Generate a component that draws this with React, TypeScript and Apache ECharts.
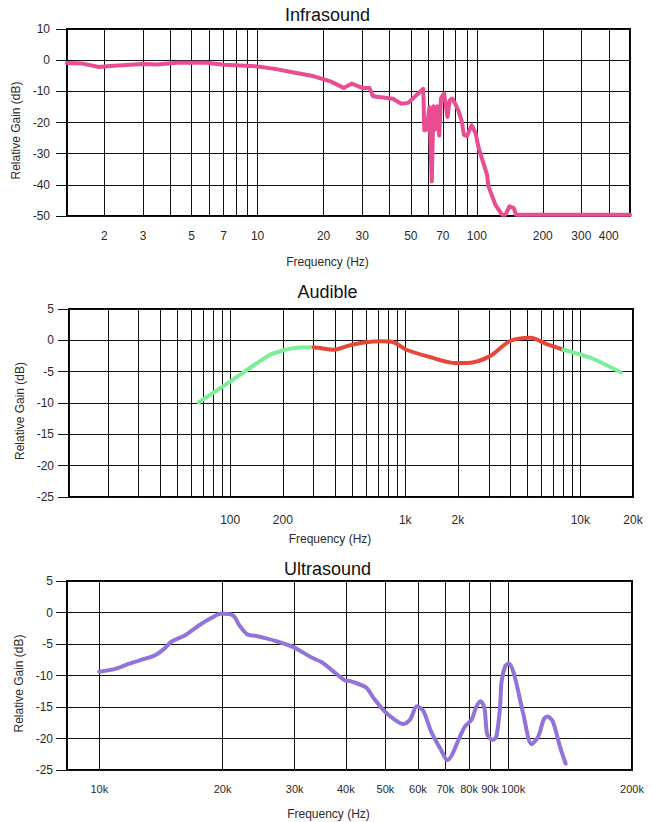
import React, { useEffect, useRef } from "react";
import * as echarts from "echarts";

// ---------- Infrasound ----------
const infraRange = [1.35, 500];
const infraTicks = [1.35, 2, 3, 4, 5, 6, 7, 8, 9, 10, 20, 30, 40, 50, 60, 70, 80, 90, 100, 200, 300, 400, 500];
const infraLabels = [2, 3, 5, 7, 10, 20, 30, 50, 70, 100, 200, 300, 400];
const infraFreq = [1.35, 1.59, 1.89, 2.12, 3.0, 3.48, 4.29, 5.85, 7, 10, 12.0, 14.4, 17.9, 21.5, 24.7, 26.9, 30, 32.4, 33.6, 41.4, 45.3, 48.6, 57.0, 57.6, 59.1, 60.8, 62.3, 63.4, 64.5, 66.0, 67.4, 68.6, 70.9, 73.5, 75.2, 77.3, 80, 82.6, 85.4, 87.3, 90.2, 94.6, 98.6, 102, 111.4, 113, 121.6, 130.4, 135.1, 140.9, 147.5, 151, 500];
const infraGain = [-0.9, -1.1, -2.2, -1.9, -1.2, -1.4, -0.8, -0.8, -1.5, -2.0, -2.8, -3.9, -5.1, -6.8, -8.9, -7.5, -8.9, -8.9, -11.6, -12.4, -14.0, -13.7, -9.2, -22.5, -22.3, -15.1, -38.9, -14.8, -22.3, -14.8, -24.2, -12.3, -10.7, -18.2, -12.9, -12.3, -14.2, -16.4, -19.6, -23.9, -24.4, -20.9, -23.3, -28.2, -36.8, -40.5, -46.4, -49.6, -49.6, -46.9, -47.5, -49.6, -49.6];

// ---------- Audible ----------
const audRange = [12, 20000];
const audTicks = [12, 20, 30, 40, 50, 60, 70, 80, 90, 100, 200, 300, 400, 500, 600, 700, 800, 900, 1000, 2000, 3000, 4000, 5000, 6000, 7000, 8000, 9000, 10000, 20000];
const audLabels = [100, 200, 1000, 2000, 10000, 20000];
const audLowFreq = [66, 103.5, 169, 233, 300];
const audLowGain = [-9.9, -6.3, -2.3, -1.2, -1.1];
const audMidFreq = [300, 318, 392, 480, 594, 734, 857, 1014, 1359, 1905, 2265, 3013, 3953, 5190, 6427, 8000];
const audMidGain = [-1.1, -1.2, -1.5, -0.8, -0.3, -0.15, -0.3, -1.5, -2.6, -3.6, -3.6, -2.6, -0.15, 0.4, -0.6, -1.5];
const audHighFreq = [8000, 11730, 17030];
const audHighGain = [-1.5, -2.9, -5.1];

// ---------- Ultrasound ----------
const ultraRange = [8340, 200000];
const ultraTicks = [8340, 10000, 20000, 30000, 40000, 50000, 60000, 70000, 80000, 90000, 100000, 200000];
const ultraLabels = [10000, 20000, 30000, 40000, 50000, 60000, 70000, 80000, 90000, 100000, 200000];
const ultraFreq = [10000, 10990, 11630, 12550, 13670, 14330, 15030, 16210, 17650, 18860, 19770, 20150, 21240, 22020, 23010, 24040, 25570, 27210, 29800, 33110, 34950, 36890, 39670, 41060, 44800, 46800, 49750, 52660, 55240, 57410, 59680, 61830, 64650, 68180, 70900, 72680, 75410, 78170, 81210, 83270, 85350, 87220, 88670, 91450, 93260, 95170, 96070, 98060, 100000, 102500, 105300, 108600, 113700, 118000, 121700, 124200, 128100, 133000, 137700];
const ultraGain = [-9.4, -8.9, -8.3, -7.6, -6.8, -5.9, -4.6, -3.6, -1.9, -0.8, -0.2, -0.2, -0.5, -2.1, -3.5, -3.7, -4.1, -4.6, -5.5, -7.2, -7.9, -9.1, -10.7, -10.9, -11.9, -13.6, -15.7, -17.0, -17.7, -17.0, -14.9, -15.6, -18.9, -21.7, -23.4, -22.6, -20.2, -18.1, -17.0, -15.0, -14.1, -15.2, -19.4, -20.2, -19.7, -15.2, -10.9, -8.5, -8.1, -9.3, -12.3, -16.2, -20.9, -19.7, -17.0, -16.5, -17.3, -21.0, -24.0];

const titles = ["Infrasound", "Audible", "Ultrasound"];

const FONT = "'Liberation Sans', Arial, Helvetica, sans-serif";
const LINE = "#111";
const TEXT = "#2a2a2a";
const lg = (v: number) => Math.log10(v);
const fmtHz = (f: number) => (f >= 1000 ? `${Math.round(f / 100) / 10}k` : `${f}`);
const pairs = (fs: number[], gs: number[]) => fs.map((f, i) => [lg(f), gs[i]]);

// a label crowded against its left neighbour is nudged right
function nudged(labels: number[], best: number): string {
  const i = labels.indexOf(best);
  const txt = fmtHz(best);
  const gapL = i > 0 ? lg(best) - lg(labels[i - 1]) : 1;
  if (gapL < 0.05) return `{r|${txt}}`;
  return txt;
}

function makeX(gridIndex: number, range: number[], ticks: number[], labels: number[], labelSize: number, labelMargin: number, nameGap: number) {
  return {
    type: "value",
    gridIndex,
    min: lg(range[0]),
    max: lg(range[1]),
    name: "Frequency (Hz)",
    nameLocation: "middle",
    nameGap,
    nameTextStyle: { fontFamily: FONT, fontSize: 12, color: TEXT, padding: [0, 42, 0, 0] },
    axisLine: { show: false },
    axisTick: { show: true, inside: false, length: 10, customValues: ticks.map(lg), lineStyle: { color: LINE, width: 1 } },
    axisLabel: {
      customValues: labels.map(lg),
      formatter: (v: number) => {
        let best = labels[0];
        for (const l of labels) if (Math.abs(lg(l) - v) < Math.abs(lg(best) - v)) best = l;
        return nudged(labels, best);
      },
      fontFamily: FONT,
      fontSize: labelSize,
      color: TEXT,
      margin: labelMargin,
      rich: {
        r: { fontFamily: FONT, fontSize: labelSize, color: TEXT, padding: [0, 0, 0, 9] },
      },
    },
    splitLine: { show: true, lineStyle: { color: LINE, width: 1 } },
  };
}

function makeY(gridIndex: number, min: number, max: number, interval: number, margin: number, nameGap: number) {
  return {
    type: "value",
    gridIndex,
    min,
    max,
    interval,
    name: "Relative Gain (dB)",
    nameLocation: "middle",
    nameGap,
    nameTextStyle: { fontFamily: FONT, fontSize: 12, color: TEXT, padding: [0, 16, 0, 0] },
    axisLine: { show: false },
    axisTick: { show: true, inside: false, length: 11, lineStyle: { color: LINE, width: 1 } },
    axisLabel: { fontFamily: FONT, fontSize: 12, color: TEXT, margin },
    splitLine: { show: true, lineStyle: { color: LINE, width: 1 } },
  };
}

function lineSeries(xi: number, data: number[][], color: string, smooth: number | boolean) {
  return {
    type: "line",
    xAxisIndex: xi,
    yAxisIndex: xi,
    data,
    showSymbol: false,
    symbol: "none",
    smooth,
    lineStyle: { color, width: 4, cap: "round", join: "round" },
    z: 5,
  };
}

export default function App() {
  const ref = useRef<HTMLDivElement>(null);
  useEffect(() => {
    if (!ref.current) return;
    const chart = echarts.init(ref.current, undefined, { renderer: "svg" });
    const gridBase = { show: true, borderColor: "#000", borderWidth: 2, containLabel: false, outerBoundsMode: "none", backgroundColor: "transparent" };
    const titleStyle = { fontFamily: FONT, fontSize: 18, fontWeight: "normal", color: "#111" };
    const option = {
      animation: false,
      backgroundColor: "#fff",
      title: [
        { text: titles[0], left: "center", top: 6, padding: 0, textStyle: titleStyle },
        { text: titles[1], left: "center", top: 283, padding: 0, textStyle: titleStyle },
        { text: titles[2], left: "center", top: 560, padding: 0, textStyle: titleStyle },
      ],
      grid: [
        { ...gridBase, left: 67, right: 25, top: 29, height: 187 },
        { ...gridBase, left: 69, right: 22, top: 309, height: 188 },
        { ...gridBase, left: 67, right: 23, top: 581, height: 189 },
      ],
      xAxis: [
        makeX(0, infraRange, infraTicks, infraLabels, 12, 14, 40),
        makeX(1, audRange, audTicks, audLabels, 12, 17, 36),
        makeX(2, ultraRange, ultraTicks, ultraLabels, 11, 13, 38),
      ],
      yAxis: [
        makeY(0, -50, 10, 10, 17, 39),
        makeY(1, -25, 5, 5, 15, 41),
        makeY(2, -25, 5, 5, 14, 39),
      ],
      series: [
        lineSeries(0, pairs(infraFreq, infraGain), "#EA4C93", false),
        lineSeries(1, pairs(audLowFreq, audLowGain), "#7AEE98", 0.2),
        lineSeries(1, pairs(audMidFreq, audMidGain), "#E9463A", 0.3),
        lineSeries(1, pairs(audHighFreq, audHighGain), "#7AEE98", 0.2),
        lineSeries(2, pairs(ultraFreq, ultraGain), "#9272DB", 0.3),
      ],
    };
    chart.setOption(option as any);
    return () => chart.dispose();
  }, []);
  return <div ref={ref} style={{ position: "absolute", left: 0, top: 0, width: 655, height: 822 }} />;
}
